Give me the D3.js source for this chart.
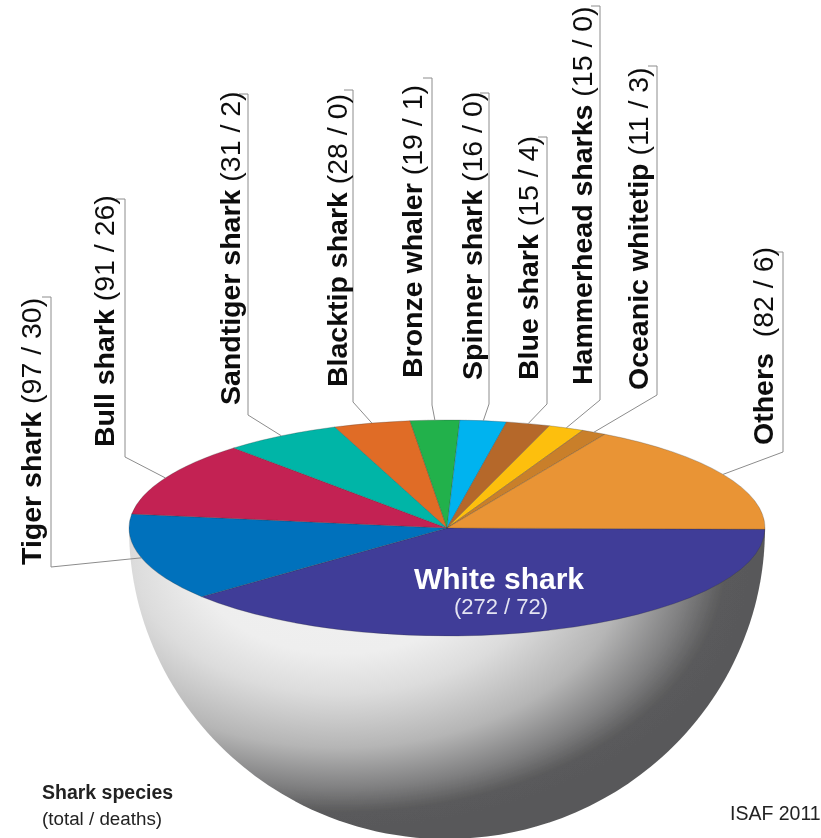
<!DOCTYPE html>
<html>
<head>
<meta charset="utf-8">
<style>
  html, body { margin: 0; padding: 0; background: #fff; }
  text { font-family: "Liberation Sans", Arial, sans-serif; white-space: pre; }
</style>
<script src="https://cdn.jsdelivr.net/npm/d3@7"></script>
</head>
<body>
<svg id="chart" width="821" height="838"></svg>
<script>
var species = ["White shark", "Tiger shark", "Bull shark", "Sandtiger shark", "Blacktip shark",
  "Bronze whaler", "Spinner shark", "Blue shark", "Hammerhead sharks", "Oceanic whitetip", "Others"];
var totals = [272, 97, 91, 31, 28, 19, 16, 15, 15, 11, 82];
var deaths = [72, 30, 26, 2, 0, 1, 0, 4, 0, 3, 6];
// wedge sizes in degrees as drawn in the picture, they do not follow the totals exactly
var sliceDegrees = [140, 47, 40.5, 21.5, 14, 9, 8.5, 8, 6.5, 4.5, 61];
var sliceColors = ["#3f3c98", "#0071bc", "#c32052", "#00b5a7", "#e06c27", "#22b14c",
  "#00b3ef", "#b5682b", "#fdbf0f", "#c97f2c", "#e99434"];

// label layout, same order as species (first one sits on the pie)
var labelX = [null, 41, 114, 240, 347, 422, 482, 538, 592, 648, 773];
var labelY = [null, 565, 447, 405, 387, 378, 380, 380, 385, 390, 445];
var lineX = [null, 51, 125, 248, 353, 432, 489, 547, 600, 657, 783];
var lineTop = [null, 297, 199, 94, 90, 78, 93, 137, 6, 66, 252];
var lineElbow = [null, 567, 457, 415, 402, 405, 404, 404, 400, 395, 452];

var cx = 447, cy = 528, rx = 318, ry = 108, bowlDepth = 311;

var svg = d3.select("#chart");
var defs = svg.append("defs");

var soften = defs.append("filter").attr("id", "soften")
  .attr("filterUnits", "userSpaceOnUse")
  .attr("x", 0).attr("y", 0)
  .attr("width", 821).attr("height", 838);
soften.append("feGaussianBlur").attr("stdDeviation", 0.6);

// bowl shading: bright patch under the rim, dark crescent lower right
var shade = defs.append("radialGradient").attr("id", "bowl")
  .attr("gradientUnits", "userSpaceOnUse")
  .attr("cx", 0).attr("cy", 0).attr("r", 1)
  .attr("gradientTransform", "translate(340,560) scale(410,268)");
[[0, "#f1f1f1"], [0.35, "#eeeeee"], [0.5, "#dcdcdc"], [0.7, "#b5b5b5"], [0.85, "#808081"], [0.94, "#5a5a5b"], [1, "#59595a"]]
  .forEach(function(s) {
    shade.append("stop").attr("offset", s[0]).attr("stop-color", s[1]);
  });

var root = svg.append("g").attr("filter", "url(#soften)");

var bowlPath = d3.path();
bowlPath.moveTo(cx - rx, cy);
bowlPath.bezierCurveTo(cx - rx, cy + bowlDepth * 0.552, cx - rx * 0.552, cy + bowlDepth, cx, cy + bowlDepth);
bowlPath.bezierCurveTo(cx + rx * 0.552, cy + bowlDepth, cx + rx, cy + bowlDepth * 0.552, cx + rx, cy);
bowlPath.closePath();
root.append("path").attr("d", bowlPath.toString()).attr("fill", "url(#bowl)");

// pie is a flat circle squashed into the rim ellipse
var startAngle = Math.PI / 2 + 0.012;
var pie = d3.pie().sort(null).value(function(d) { return d; })
  .startAngle(startAngle).endAngle(startAngle + 2 * Math.PI);
var arcs = pie(sliceDegrees);
var arc = d3.arc().innerRadius(0).outerRadius(rx);

root.append("g")
  .attr("transform", "translate(" + cx + "," + cy + ") scale(1," + (ry / rx) + ")")
  .selectAll("path")
  .data(arcs)
  .enter()
  .append("path")
  .attr("d", arc)
  .attr("fill", function(d, i) { return sliceColors[i]; })
  .attr("stroke", "#333")
  .attr("stroke-opacity", 0.45)
  .attr("stroke-width", 0.6)
  .attr("vector-effect", "non-scaling-stroke");

// leader lines start on the rim at the middle of each slice
function rimPoint(d) {
  var a = (d.startAngle + d.endAngle) / 2;
  return [cx + rx * Math.sin(a), cy - ry * Math.cos(a)];
}

var leaderIdx = d3.range(1, species.length);
root.append("g").selectAll("path")
  .data(leaderIdx)
  .enter()
  .append("path")
  .attr("fill", "none")
  .attr("stroke", "#8c8c8c")
  .attr("stroke-width", 1)
  .attr("d", function(i) {
    var rim = rimPoint(arcs[i]);
    return d3.line()([
      [lineX[i] - 9, lineTop[i]],
      [lineX[i], lineTop[i]],
      [lineX[i], lineElbow[i]],
      rim
    ]);
  });

// rotated labels, name bold and counts regular
var labels = root.append("g").selectAll("text")
  .data(leaderIdx)
  .enter()
  .append("text")
  .attr("transform", function(i) { return "translate(" + labelX[i] + "," + labelY[i] + ") rotate(-90)"; })
  .attr("font-size", 28.5)
  .attr("fill", "#111");
labels.append("tspan")
  .attr("font-weight", "bold")
  .text(function(i) { return species[i]; });
labels.append("tspan")
  .text(function(i) {
    var gap = species[i] == "Others" ? "  " : " ";
    return gap + "(" + totals[i] + " / " + deaths[i] + ")";
  });

root.append("text")
  .attr("x", 499).attr("y", 589)
  .attr("text-anchor", "middle")
  .attr("font-size", 30).attr("font-weight", "bold")
  .attr("fill", "#fff")
  .text(species[0]);
root.append("text")
  .attr("x", 501).attr("y", 614)
  .attr("text-anchor", "middle")
  .attr("font-size", 22)
  .attr("fill", "#e4e4f2")
  .text("(" + totals[0] + " / " + deaths[0] + ")");

root.append("text")
  .attr("x", 42).attr("y", 799)
  .attr("font-size", 19.5).attr("font-weight", "bold").attr("fill", "#222")
  .text("Shark species");
root.append("text")
  .attr("x", 42).attr("y", 825)
  .attr("font-size", 18.8).attr("fill", "#222")
  .text("(total / deaths)");
root.append("text")
  .attr("x", 730).attr("y", 820)
  .attr("font-size", 19.5).attr("fill", "#222")
  .text("ISAF 2011");
</script>
</body>
</html>
